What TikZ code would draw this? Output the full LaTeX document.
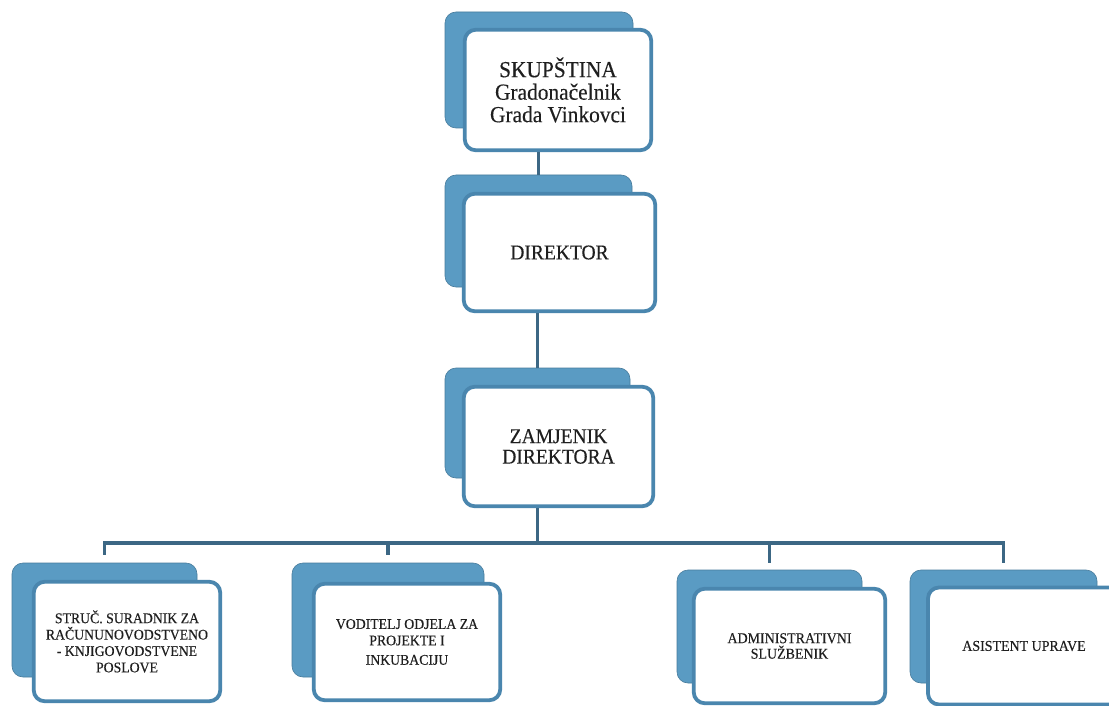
\documentclass[tikz,border=0pt]{standalone}
\usepackage{fontspec}
\setmainfont{Liberation Serif}[FakeStretch=0.93,FakeBold=0.3]
\usetikzlibrary{calc}
\definecolor{backblue}{HTML}{5A9BC3}
\definecolor{edgeblue}{HTML}{4A86AE}
\definecolor{linkblue}{HTML}{3C6784}
\begin{document}
\begin{tikzpicture}[x=1pt,y=-1pt,
  backbox/.style={rectangle, rounded corners=11pt, fill=backblue, draw=backblue!80!black, line width=0.6pt, inner sep=0pt},
  frontbox/.style={rectangle, rounded corners=11pt, fill=white, draw=edgeblue, line width=3.8pt, align=center, inner sep=2pt, text=black!88},
  link/.style={draw=linkblue, line width=3.5pt},
  topfont/.style={font=\fontsize{23}{22.5}\selectfont},
  midfont/.style={font=\fontsize{21}{20.5}\selectfont},
  smallfont/.style={font=\fontsize{14.8}{16.4}\selectfont},
  tinyfont/.style={font=\fontsize{15}{15.5}\selectfont}
]
\useasboundingbox (0,0) rectangle (1109,706);
\fill[white] (0,0) rectangle (1109,706);
\clip (0,0) rectangle (1109,706);

% back boxes
\node[backbox, minimum width=188pt, minimum height=116pt] (b0) at (539,70) {};
\node[backbox, minimum width=187pt, minimum height=112pt] (b1) at (538.5,231) {};
\node[backbox, minimum width=185pt, minimum height=110pt] (b2) at (537.5,423) {};
\node[backbox, minimum width=185pt, minimum height=114pt] (b3) at (104.5,620) {};
\node[backbox, minimum width=192pt, minimum height=114pt] (b4) at (388,620) {};
\node[backbox, minimum width=185pt, minimum height=113pt] (b5) at (769.5,626.5) {};
\node[backbox, minimum width=187pt, minimum height=113pt] (b6) at (1003.5,626.5) {};

% front boxes
\node[frontbox, topfont, minimum width=186.5pt, minimum height=120.5pt] (f0) at (558,90)
  {SKUPŠTINA\\Gradonačelnik\\Grada Vinkovci};
\node[frontbox, midfont, minimum width=191.5pt, minimum height=117.5pt] (f1) at (559.5,252.5)
  {DIREKTOR};
\node[frontbox, midfont, minimum width=189.5pt, minimum height=119.5pt] (f2) at (558.5,446.5)
  {ZAMJENIK\\DIREKTORA};
\node[frontbox, smallfont, minimum width=186.5pt, minimum height=119.5pt] (f3) at (127,641.5)
  {STRUČ. SURADNIK ZA\\RAČUNUNOVODSTVENO\\- KNJIGOVODSTVENE\\POSLOVE};
\node[frontbox, smallfont, minimum width=186.5pt, minimum height=116.5pt] (f4) at (407,642)
  {VODITELJ ODJELA ZA\\PROJEKTE I\\[3pt]INKUBACIJU};
\node[frontbox, tinyfont, minimum width=191.5pt, minimum height=114.5pt] (f5) at (789.5,646)
  {ADMINISTRATIVNI\\SLUŽBENIK};
\node[frontbox, tinyfont, minimum width=192pt, minimum height=117pt] (f6) at (1024,646)
  {ASISTENT UPRAVE};

% connectors
\coordinate (bus) at (538,543);
\draw[link] (b1.north |- f0.south) -- (b1.north);
\draw[link] (b2.north |- f1.south) -- (b2.north);
\draw[link] (b2.north |- f2.south) -- (b2.north |- bus);
\draw[link] ($(b3.north)+(0,-8)$) -- (b3.north |- bus) -- (b6.north |- bus) -- ($(b6.north)+(0,-7)$);
\draw[link] (b4.north |- bus) -- ($(b4.north)+(0,-8)$);
\draw[link] (b5.north |- bus) -- ($(b5.north)+(0,-7)$);
\end{tikzpicture}
\end{document}
